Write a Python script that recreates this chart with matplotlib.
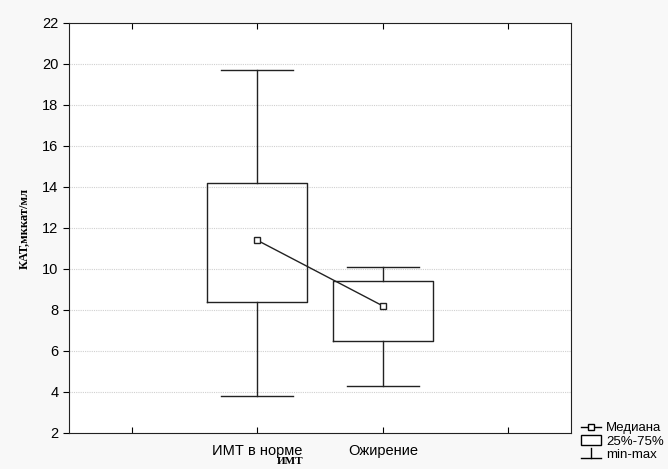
import matplotlib
matplotlib.use("Agg")
import matplotlib.pyplot as plt
from matplotlib.lines import Line2D
from matplotlib.patches import Patch
from matplotlib.legend_handler import HandlerBase

# data
groups = ["ИМТ в норме", "Ожирение"]
mins = [3.8, 4.3]
q1s = [8.4, 6.5]
medians = [11.4, 8.2]
q3s = [14.2, 9.4]
maxs = [19.7, 10.1]
positions = [1.5, 2.5]


class MinMaxHandler(HandlerBase):
    """Legend symbol for the whisker: vertical stem with a foot."""
    def create_artists(self, legend, orig_handle, xdescent, ydescent,
                       width, height, fontsize, trans):
        cx = width / 2 - xdescent
        foot = Line2D([-xdescent, width - xdescent], [-ydescent, -ydescent],
                      color="black", lw=1, transform=trans)
        stem = Line2D([cx, cx], [-ydescent, height - ydescent],
                      color="black", lw=1, transform=trans)
        return [foot, stem]


plt.rcParams["font.family"] = ["Liberation Sans", "DejaVu Sans"]

fig = plt.figure(figsize=(6.68, 4.69), dpi=100)
fig.patch.set_facecolor("#f8f8f8")
ax = fig.add_axes([0.1033, 0.0768, 0.7515, 0.8742])
ax.set_facecolor("white")

stats = []
for g, lo, a, m, b, hi in zip(groups, mins, q1s, medians, q3s, maxs):
    stats.append(dict(label=g, whislo=lo, q1=a, med=m, q3=b, whishi=hi))

ax.bxp(stats, positions=positions, widths=0.8, capwidths=0.57,
       showfliers=False, patch_artist=False,
       boxprops=dict(color="#222222", lw=1),
       whiskerprops=dict(color="#222222", lw=1),
       capprops=dict(color="#222222", lw=1),
       medianprops=dict(visible=False))

ax.plot(positions, medians, color="#222222", lw=1, marker="s", ms=5,
        mfc="white", mec="#222222", mew=1, zorder=5)

ax.set_xlim(0, 4)
ax.set_ylim(2, 22)
ax.set_yticks(range(2, 23, 2))
ax.set_xticks([0.5, 1.5, 2.5, 3.5])
ax.set_xticklabels(["", groups[0], groups[1], ""], fontsize=10.5)
ax.tick_params(axis="x", direction="in", length=4, top=True, pad=8)
ax.tick_params(axis="y", direction="out", length=4, labelsize=10.5)
ax.yaxis.grid(True, color="#d0d0d0", lw=0.8, ls=(0, (1, 1)))
ax.set_axisbelow(True)
for s in ax.spines.values():
    s.set_color("#222222")

ax.set_ylabel("КАТ,мккат/мл", family=["Liberation Serif", "DejaVu Serif"],
              fontweight="bold", fontsize=9)
ax.yaxis.set_label_coords(-0.078, 0.5)
ax.set_xlabel("ИМТ", family=["Liberation Serif", "DejaVu Serif"],
              fontweight="bold", fontsize=8)
ax.xaxis.set_label_coords(0.44, -0.058)

handles = [
    Line2D([], [], color="black", lw=1, marker="s", ms=5, mfc="white", mec="black"),
    Patch(facecolor="white", edgecolor="black", lw=1),
    object(),
]
labels = ["Медиана", "25%-75%", "min-max"]
fig.legend(handles, labels, loc="lower left", bbox_to_anchor=(0.862, 0.006),
           frameon=False, fontsize=9.5, handlelength=1.5, handleheight=0.8,
           handletextpad=0.4, labelspacing=0.05, borderaxespad=0,
           handler_map={object: MinMaxHandler()})

fig.savefig("out.png", dpi=100, facecolor=fig.get_facecolor())
